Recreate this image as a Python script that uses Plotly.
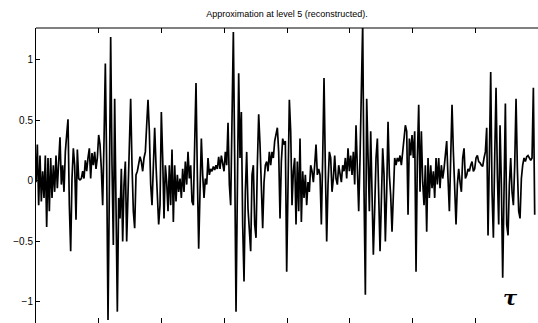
import plotly.graph_objects as go

# Sampling interval of the reconstructed signal (tau units per sample)
SAMPLE_DT = 2.125

# Approximation at level 5 (reconstructed) in four stretches
seg1 = [-0.01, 0.30, -0.20, 0.21, -0.17, 0.08, -0.14, 0.21, -0.38, 0.19,
        -0.25, 0.19, -0.14, 0.13, -0.09, 0.21, -0.06, 0.13, 0.36, -0.03,
        0.13, -0.09, 0.24, 0.38, 0.51, -0.20, -0.58, 0.02, 0.27, 0.13,
        -0.32, 0.26, 0.02, 0.01, 0.02, 0.08, 0.02, 0.17, 0.08, 0.19,
        0.27, 0.02, 0.23, 0.13, 0.24, 0.10, 0.19, 0.38, 0.30, 0.10,
        -0.20, 0.33, 0.97, 0.13, -1.15, -0.09, 1.19, 0.13, -0.53, 0.68,
        -0.36, -1.08, -0.14, -0.31, 0.10, -0.50, -0.03, 0.16, -0.50, -0.09,
        0.33, 0.68, 0.13, -0.25, -0.39, 0.05, 0.08, 0.13, 0.20, 0.16,
        0.08, 0.19, 0.24, 0.46, 0.67, 0.41, -0.03, -0.20, 0.13, 0.44,
        0.13, -0.09, -0.36, -0.20, 0.57]
seg2 = [0.57, 0.19, -0.31, 0.13, -0.01, -0.25, 0.13, -0.20, 0.26, -0.34,
        0.13, -0.17, 0.05, -0.09, 0.02, -0.14, 0.10, -0.09, 0.16, -0.03,
        0.24, 0.02, 0.13, -0.17, -0.20, 0.30, 0.81, 0.05, -0.56, -0.09,
        0.35, 0.05, -0.14, 0.02, -0.03, 0.19, 0.05, 0.10, 0.08, 0.12,
        0.09, 0.13, 0.10, 0.20, 0.10, 0.21, 0.13, 0.08, 0.24, 0.13,
        0.48, -0.03, -0.20, 0.38, 1.23, 0.19, -1.08, -0.09, 0.89, 0.19,
        0.57, -0.36, -0.83, -0.09, 0.24, -0.23, -0.47, -0.58, 0.05, 0.13,
        -0.36, -0.47, 0.13, 0.55, 0.30, -0.09, -0.39, -0.01, 0.13, 0.16,
        0.08, 0.24, 0.13, 0.24, 0.19, 0.33, 0.38, 0.44, 0.24, -0.31,
        0.16, 0.35, 0.30, 0.33, 0.24]
seg3 = [-0.75, 0.05, 0.67, 0.41, -0.20, 0.08, 0.19, -0.36, 0.16, -0.25,
        0.35, -0.34, 0.08, -0.14, 0.05, -0.20, -0.01, -0.09, 0.13, 0.08,
        -0.01, 0.13, 0.30, 0.05, 0.10, 0.05, -0.36, 0.19, 0.85, 0.10,
        -0.50, -0.03, 0.24, 0.19, -0.09, 0.02, 0.21, 0.02, -0.03, 0.13,
        0.05, -0.01, 0.13, 0.08, 0.19, 0.02, 0.27, 0.08, 0.21, 0.05,
        0.24, -0.03, 0.46, 0.13, -0.25, 0.19, 0.74, 1.30, -0.09, -0.94,
        0.68, 0.19, -0.25, 0.41, -0.09, -0.61, -0.23, 0.19, 0.35, -0.09,
        -0.58, -0.17, 0.27, 0.05, -0.50, -0.09, 0.49, 0.05, -0.12, -0.42,
        -0.09, 0.19, 0.13, 0.19, 0.16, 0.21, 0.13, 0.24, 0.38, 0.46,
        0.41]
seg4 = [-0.28, 0.35, 0.21, 0.38, 0.19, 0.41, -0.75, 0.19, 0.63, -0.09,
        0.41, -0.01, -0.20, 0.13, -0.42, 0.19, -0.14, 0.13, -0.06, 0.08,
        -0.14, 0.19, -0.03, 0.19, -0.06, 0.13, 0.02, 0.10, 0.24, 0.33,
        0.02, -0.25, 0.19, 0.63, 0.24, -0.14, -0.36, -0.03, 0.10, -0.01,
        -0.09, 0.19, 0.27, 0.02, 0.05, 0.10, 0.08, 0.13, 0.16, 0.08,
        0.10, 0.19, 0.21, 0.16, 0.15, 0.13, 0.12, 0.19, 0.24, 0.44,
        -0.45, 0.19, 0.90, -0.09, -0.47, 0.19, 0.77, 0.05, -0.36, 0.46,
        -0.03, -0.80, 0.19, 0.64, -0.36, -0.45, -0.03, 0.19, -0.09, -0.20,
        0.13, 0.68, 0.10, -0.25, -0.31, 0.02, 0.13, 0.19, 0.16, 0.20,
        0.21, 0.19, 0.17, 0.19, 0.77, -0.28]

values = seg1[:-1] + seg2[:-1] + seg3 + seg4
tau = [i * SAMPLE_DT for i in range(len(values))]

x_ticks = [0, 100, 200, 300, 400, 500, 600, 700, 800]
y_ticks = [-1, -0.5, 0, 0.5, 1]
y_tick_labels = ["\u22121", "\u22120.5", "0", "0.5", "1"]

fig = go.Figure()
fig.add_trace(go.Scatter(
    x=tau, y=values, mode="lines",
    line=dict(color="black", width=1.7),
    hoverinfo="skip", showlegend=False,
))

fig.update_layout(
    width=538, height=323,
    margin=dict(l=36, r=0, t=28, b=0),
    paper_bgcolor="white", plot_bgcolor="white",
    title=dict(
        text="Approximation at level 5 (reconstructed).",
        x=0.5, xref="paper", xanchor="center",
        y=1 - 14 / 323, yanchor="middle",
        font=dict(family="Liberation Sans, Arial, sans-serif", size=9, color="black"),
    ),
    font=dict(family="Liberation Sans, Arial, sans-serif", size=10, color="black"),
    xaxis=dict(
        range=[0, 800], tickvals=x_ticks, showticklabels=False,
        ticks="inside", ticklen=5, tickcolor="black", tickwidth=1,
        showgrid=False, zeroline=False, showline=False, mirror="ticks",
    ),
    yaxis=dict(
        range=[-1.174, 1.264], tickvals=y_ticks, ticktext=y_tick_labels,
        ticks="inside", ticklen=4, tickcolor="black", tickwidth=1,
        showgrid=False, zeroline=False, showline=True, linecolor="black",
        linewidth=1, mirror=False,
    ),
    shapes=[dict(type="line", xref="paper", yref="paper", x0=0, x1=1, y0=1, y1=1,
                 line=dict(color="black", width=1))],
    annotations=[dict(
        text="<b><i>\u03c4</i></b>", xref="paper", yref="paper",
        x=(510 - 36) / 502, y=(323 - 297) / 295, xanchor="center", yanchor="middle",
        showarrow=False,
        font=dict(family="DejaVu Serif, Liberation Serif, serif", size=21, color="black"),
    )],
)

fig.write_html("out.html")
